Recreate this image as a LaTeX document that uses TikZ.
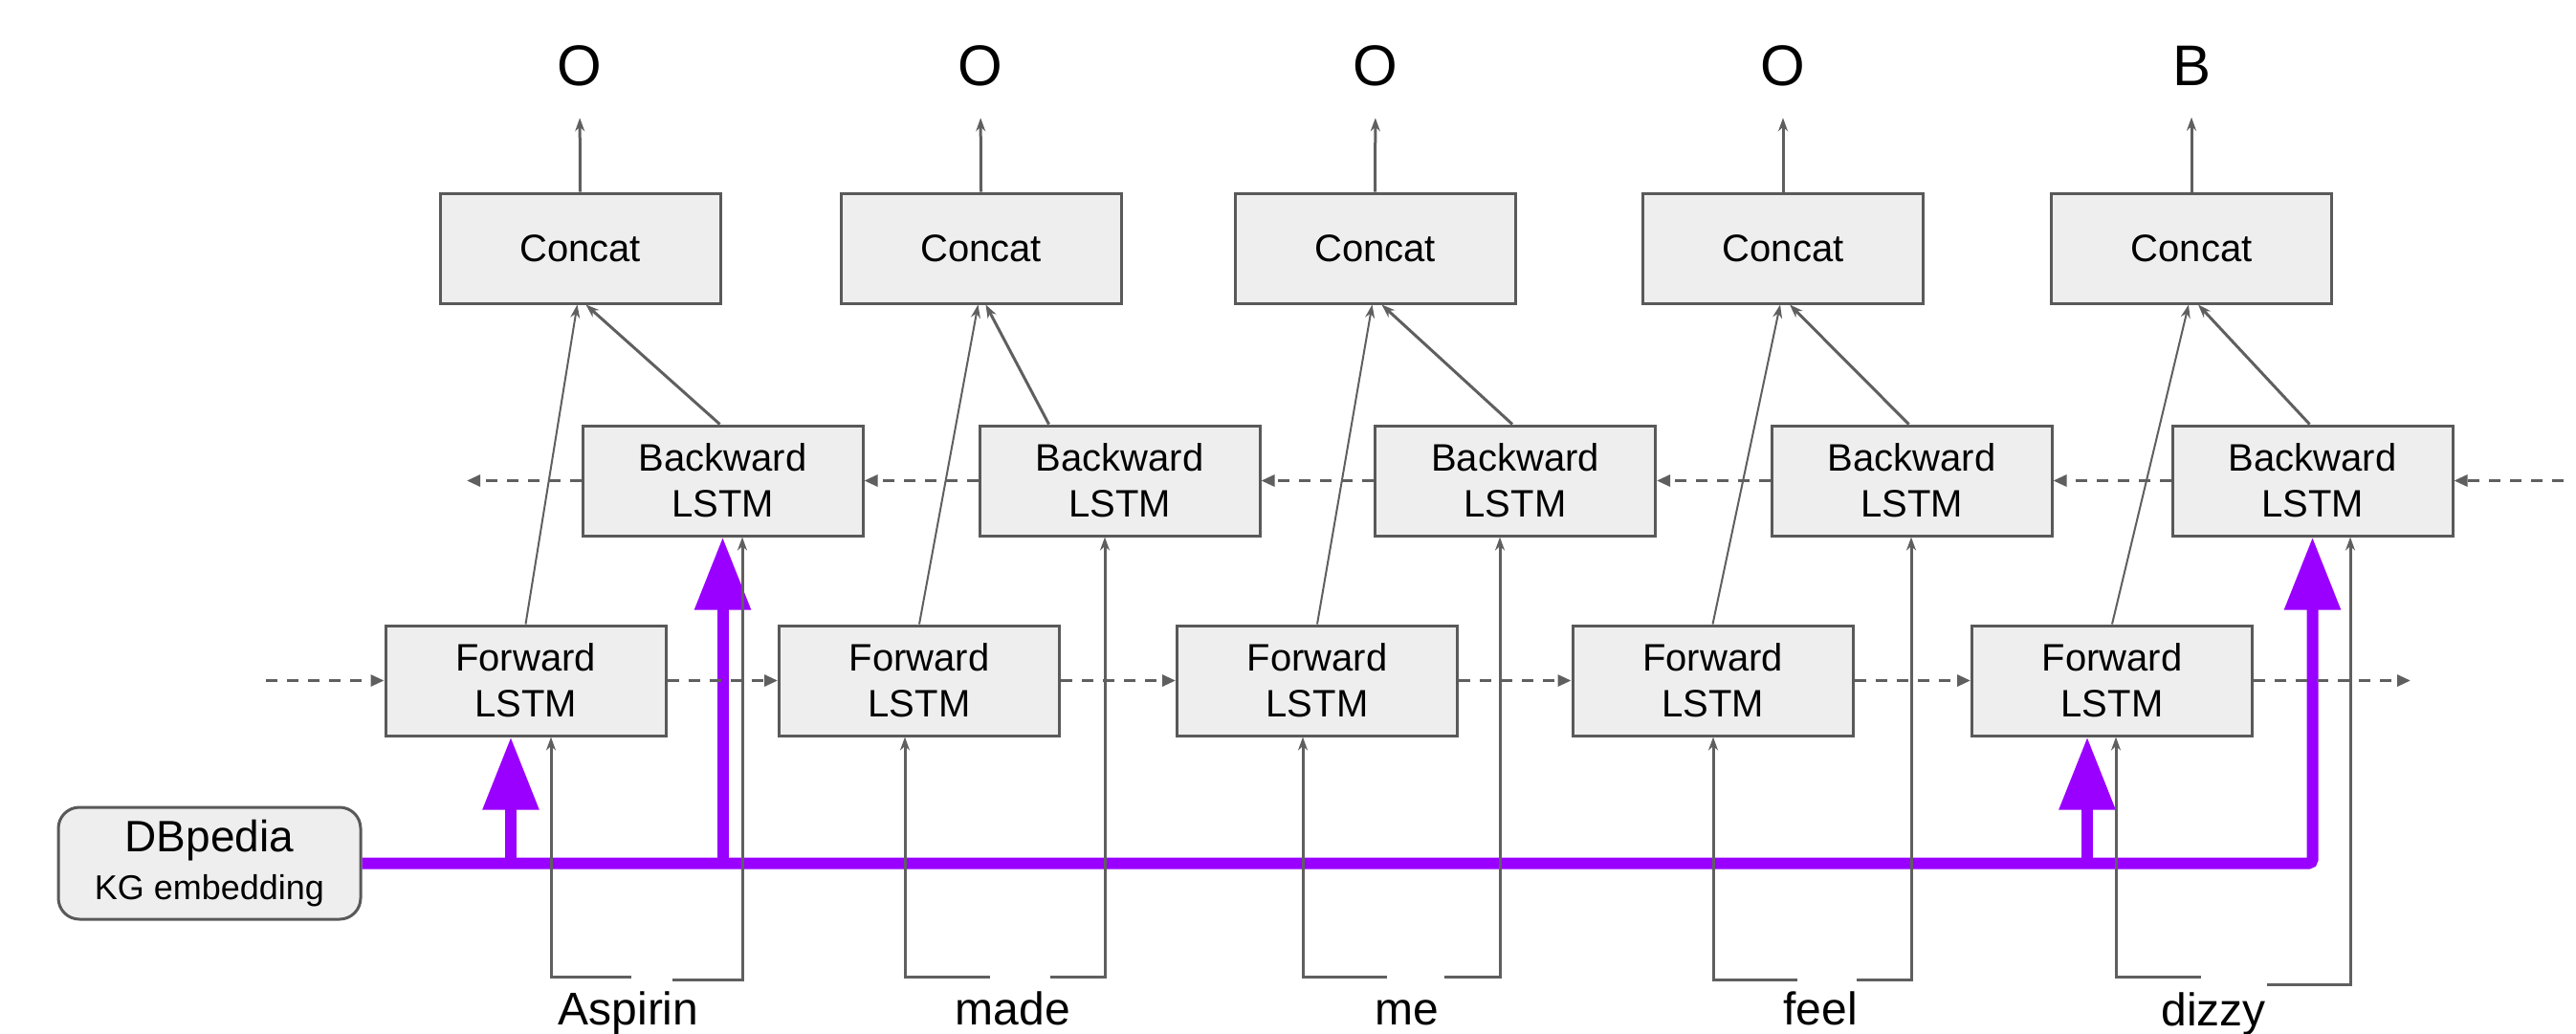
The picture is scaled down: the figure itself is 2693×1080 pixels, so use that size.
\documentclass[tikz,border=0pt]{standalone}
\usepackage{fontspec}
\setmainfont{Liberation Sans}
\usetikzlibrary{arrows.meta}
\definecolor{boxfill}{HTML}{EEEEEE}
\definecolor{boxline}{HTML}{595959}
\definecolor{connc}{HTML}{5F5F5F}
\definecolor{kgpurple}{HTML}{9900FF}
\begin{document}
\begin{tikzpicture}[x=1pt,y=-1pt,
  lstm/.style={draw=boxline, fill=boxfill, line width=3pt, minimum width=293pt,
    minimum height=115pt, inner sep=0pt, align=center, font=\fontsize{40}{48}\selectfont},
  tag/.style={font=\fontsize{60}{72}\selectfont, inner sep=0pt, outer sep=0pt},
  word/.style={font=\fontsize{48}{58}\selectfont, anchor=base, inner sep=0pt},
  conn/.style={draw=connc, line width=3pt, -{Stealth[length=14pt,width=10pt]}},
  thinconn/.style={conn, line width=2pt},
  dashline/.style={draw=connc, line width=3pt, dash pattern=on 12pt off 10pt,
    -{Triangle[length=14pt,width=12pt]}},
  kg/.style={draw=kgpurple, line width=12pt, -{Triangle[length=76pt,width=56pt]}}
]
\useasboundingbox (0,0) rectangle (2693,1080);

% Concat boxes
\node[lstm] (C1) at (606.5,259.5) {Concat};
\node[lstm] (C2) at (1025.5,259.5) {Concat};
\node[lstm] (C3) at (1437.5,259.5) {Concat};
\node[lstm] (C4) at (1864,259.5) {Concat};
\node[lstm] (C5) at (2291,259.5) {Concat};

% Backward LSTM
\node[lstm] (B1) at (755.5,502.5) {Backward\\LSTM};
\node[lstm] (B2) at (1170.5,502.5) {Backward\\LSTM};
\node[lstm] (B3) at (1584,502.5) {Backward\\LSTM};
\node[lstm] (B4) at (1998.5,502.5) {Backward\\LSTM};
\node[lstm] (B5) at (2417.5,502.5) {Backward\\LSTM};

% Forward LSTM
\node[lstm] (F1) at (549.5,711.5) {Forward\\LSTM};
\node[lstm] (F2) at (961,711.5) {Forward\\LSTM};
\node[lstm] (F3) at (1377,711.5) {Forward\\LSTM};
\node[lstm] (F4) at (1790.5,711.5) {Forward\\LSTM};
\node[lstm] (F5) at (2208,711.5) {Forward\\LSTM};

% Tags
\node[tag] (T1) at (606,69) {O};
\node[tag] (T2) at (1025,69) {O};
\node[tag] (T3) at (1438,69) {O};
\node[tag] (T4) at (1864,69) {O};
\node[tag] (T5) at (2291,69) {B};

% Words
\node[word] (W1) at (657,1071) {Aspirin};
\node[word] (W2) at (1059,1071) {made};
\node[word] (W3) at (1471,1071) {me};
\node[word] (W4) at (1903,1071) {feel};
\node[word] (W5) at (2314,1072) {dizzy};

% DBpedia
\node[draw=boxline, fill=boxfill, line width=3pt, rounded corners=22pt,
  minimum width=316pt, minimum height=117pt, inner sep=0pt, align=center]
  (DB) at (219,902.5) {\fontsize{46}{54}\selectfont DBpedia\\[13pt]\fontsize{36}{54}\selectfont KG embedding};

% Purple KG embedding connectors
\draw[kg, rounded corners=4pt] (DB.east) -| (B5.south);
\coordinate (k1) at (534,902.5);
\draw[kg] (k1) -- (k1 |- F1.south);
\draw[kg] (B1.south |- DB.east) -- (B1.south);
\coordinate (k3) at (2182,902.5);
\draw[kg] (k3) -- (k3 |- F5.south);

% Outputs
\foreach \i in {1,...,5}{
  \draw[conn, shorten >=33pt] (C\i.north) -- (T\i.south);
}

% Forward/Backward to Concat
\foreach \i in {1,...,5}{
  \draw[thinconn] (F\i.north) -- ([xshift=-3pt]C\i.south);
}
\draw[conn] ([xshift=-3pt]B1.north) -- ([xshift=6pt]C1.south);
\draw[conn] ([xshift=-74pt]B2.north) -- ([xshift=5pt]C2.south);
\draw[conn] ([xshift=-3pt]B3.north) -- ([xshift=7pt]C3.south);
\draw[conn] ([xshift=-3pt]B4.north) -- ([xshift=7pt]C4.south);
\draw[conn] ([xshift=-3pt]B5.north) -- ([xshift=7pt]C5.south);

% Recurrent dashed connections
\coordinate (fin) at (278,711.5);
\coordinate (fout) at (2520,711.5);
\draw[dashline] (fin) -- (F1.west);
\draw[dashline] (F1.east) -- (F2.west);
\draw[dashline] (F2.east) -- (F3.west);
\draw[dashline] (F3.east) -- (F4.west);
\draw[dashline] (F4.east) -- (F5.west);
\draw[dashline] (F5.east) -- (fout);
\coordinate (bin) at (2680,502.5);
\coordinate (bout) at (488,502.5);
\draw[dashline] (bin) -- (B5.east);
\draw[dashline] (B5.west) -- (B4.east);
\draw[dashline] (B4.west) -- (B3.east);
\draw[dashline] (B3.west) -- (B2.east);
\draw[dashline] (B2.west) -- (B1.east);
\draw[dashline] (B1.west) -- (bout);

% Word inputs
\coordinate (a1) at (660,1021);  \coordinate (a2) at (703,1024);
\coordinate (m1) at (1035,1021); \coordinate (m2) at (1098,1021);
\coordinate (e1) at (1450,1021); \coordinate (e2) at (1510,1021);
\coordinate (f1) at (1879,1024); \coordinate (f2) at (1941,1024);
\coordinate (d1) at (2301,1021); \coordinate (d2) at (2370,1029);
\draw[conn] (a1) -| ([xshift=26.5pt]F1.south);
\draw[conn] (a2) -| ([xshift=20.5pt]B1.south);
\draw[conn] (m1) -| ([xshift=-15pt]F2.south);
\draw[conn] (m2) -| ([xshift=-15.5pt]B2.south);
\draw[conn] (e1) -| ([xshift=-15pt]F3.south);
\draw[conn] (e2) -| ([xshift=-16pt]B3.south);
\draw[conn] (f1) -| ([xshift=0.5pt]F4.south);
\draw[conn] (f2) -| ([xshift=-0.5pt]B4.south);
\draw[conn] (d1) -| ([xshift=4pt]F5.south);
\draw[conn] (d2) -| ([xshift=39.5pt]B5.south);
\end{tikzpicture}
\end{document}
